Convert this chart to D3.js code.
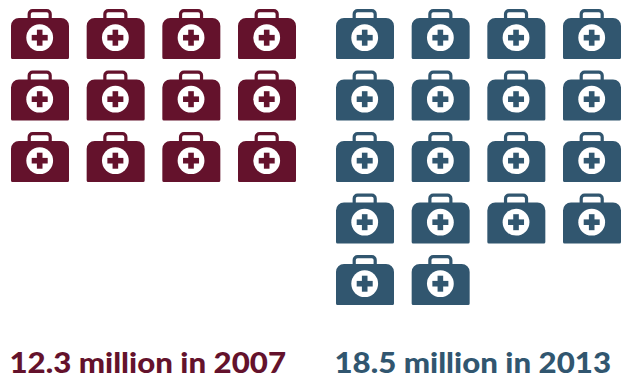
<!DOCTYPE html>
<html>
<head>
<meta charset="utf-8">
<script src="https://cdn.jsdelivr.net/npm/d3@7"></script>
<style>
html,body{margin:0;padding:0;background:#fff;overflow:hidden}
svg{display:block}
text{font-family:Lato,"Noto Sans",sans-serif;font-weight:900}
</style>
</head>
<body>
<svg id="chart" width="630" height="379"></svg>
<script>
// People covered, in millions, one kit per whole million
const years = [2007, 2013];
const millions = [12.3, 18.5];
const colours = ["#64122c", "#31566f"];
const captions = ["12.3 million in 2007", "18.5 million in 2013"];

const svg = d3.select("#chart");
const perRow = 4;
const rowCount = 5;

const groupX = d3.scaleOrdinal().domain(years).range([11, 336]);
const col = d3.scalePoint().domain(d3.range(perRow)).range([0, 227]);
const row = d3.scalePoint().domain(d3.range(rowCount)).range([9, 255]);

// Medical bag drawn in a 58 x 50 box
function bagPath() {
  const p = d3.path();
  const rr = (x, y, w, h, r) => {
    p.moveTo(x + r, y);
    p.lineTo(x + w - r, y);
    p.arcTo(x + w, y, x + w, y + r, r);
    p.lineTo(x + w, y + h - 1.5);
    p.arcTo(x + w, y + h, x + w - 1.5, y + h, 1.5);
    p.lineTo(x + 1.5, y + h);
    p.arcTo(x, y + h, x, y + h - 1.5, 1.5);
    p.lineTo(x, y + r);
    p.arcTo(x, y, x + r, y, r);
    p.closePath();
  };
  rr(0, 9, 58, 41, 8);
  return p.toString();
}

function handlePath() {
  const p = d3.path();
  p.moveTo(18.2, 10);
  p.lineTo(18.2, 5);
  p.arcTo(18.2, 1.6, 21.6, 1.6, 3.4);
  p.lineTo(35.8, 1.6);
  p.arcTo(39.2, 1.6, 39.2, 5, 3.4);
  p.lineTo(39.2, 10);
  return p.toString();
}

const groups = svg.selectAll("g.group")
  .data(years.map((y, i) => ({year: y, value: millions[i], colour: colours[i], caption: captions[i]})))
  .join("g")
  .attr("class", "group")
  .attr("transform", d => `translate(${groupX(d.year)},0)`);

const bags = groups.selectAll("g.bag")
  .data(d => d3.range(Math.floor(d.value)).map(k => ({k, colour: d.colour})))
  .join("g")
  .attr("class", "bag")
  .attr("transform", d => `translate(${col(d.k % perRow)},${row(Math.floor(d.k / perRow))})`);

bags.append("path")
  .attr("d", handlePath())
  .attr("fill", "none")
  .attr("stroke", d => d.colour)
  .attr("stroke-width", 3.2);
bags.append("path").attr("d", bagPath()).attr("fill", d => d.colour);
bags.append("circle").attr("cx", 28.7).attr("cy", 28.7).attr("r", 13.4).attr("fill", "#fff");
bags.append("rect").attr("x", 25.9).attr("y", 20.7).attr("width", 5.6).attr("height", 16).attr("fill", d => d.colour);
bags.append("rect").attr("x", 20.7).attr("y", 25.9).attr("width", 16).attr("height", 5.6).attr("fill", d => d.colour);

groups.append("text")
  .attr("x", -1.5)
  .attr("y", 372.8)
  .attr("font-size", 28.5)
  .attr("fill", d => d.colour)
  .attr("textLength", 276.5)
  .attr("lengthAdjust", "spacingAndGlyphs")
  .text(d => d.caption);
</script>
</body>
</html>
